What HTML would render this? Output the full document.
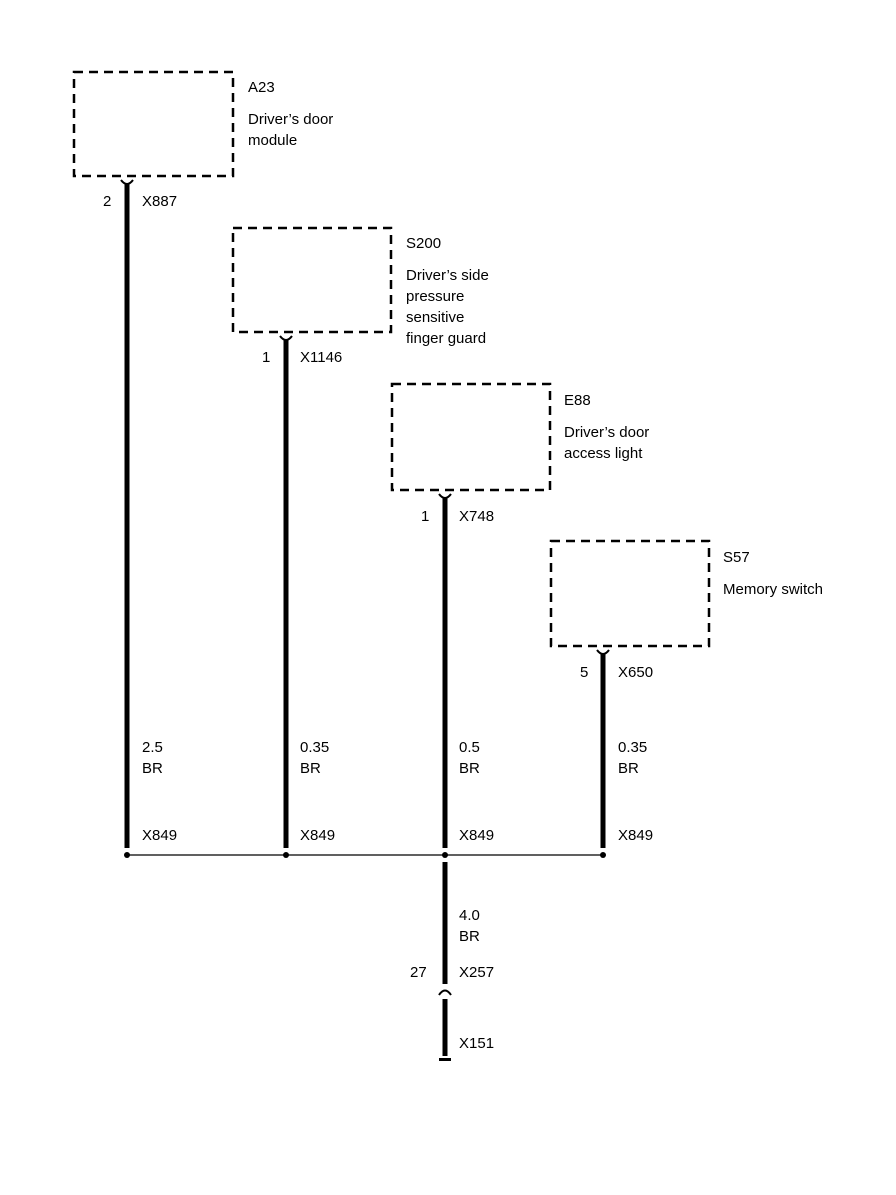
<!DOCTYPE html>
<html><head><style>
body{margin:0;background:#fff}
text{font-family:"Liberation Sans",sans-serif;font-size:15px;fill:#000}
</style></head><body>
<svg width="896" height="1190" xmlns="http://www.w3.org/2000/svg">
<g fill="none" stroke="#000" stroke-width="2.5" stroke-dasharray="9,6">
<rect x="74" y="72" width="159" height="104"/>
<rect x="233" y="228" width="158" height="104"/>
<rect x="392" y="384" width="158" height="106"/>
<rect x="551" y="541" width="158" height="105"/>
</g>
<g stroke="#000" stroke-width="5">
<line x1="127" y1="184" x2="127" y2="848"/>
<line x1="286" y1="340" x2="286" y2="848"/>
<line x1="445" y1="498" x2="445" y2="848"/>
<line x1="603" y1="654" x2="603" y2="848"/>
<line x1="445" y1="862" x2="445" y2="984"/>
<line x1="445" y1="999" x2="445" y2="1056"/>
</g>
<g fill="none" stroke="#000" stroke-width="2">
<path d="M121,180 q6,8 12,0"/><path d="M280,336 q6,8 12,0"/>
<path d="M439,494 q6,8 12,0"/><path d="M597,650 q6,8 12,0"/>
<path d="M439,995 q6,-9 12,0"/>
</g>
<line x1="127" y1="855" x2="603" y2="855" stroke="#000" stroke-width="1.3"/>
<g fill="#000">
<circle cx="127" cy="855" r="3"/><circle cx="286" cy="855" r="3"/>
<circle cx="445" cy="855" r="3"/><circle cx="603" cy="855" r="3"/>
<rect x="439" y="1058" width="12" height="3"/>
</g>
<text x="248" y="92">A23</text><text x="248" y="124">Driver’s door</text><text x="248" y="145">module</text>
<text x="103" y="206">2</text><text x="142" y="206">X887</text>
<text x="406" y="248">S200</text><text x="406" y="280">Driver’s side</text><text x="406" y="301">pressure</text><text x="406" y="322">sensitive</text><text x="406" y="343">finger guard</text>
<text x="262" y="362">1</text><text x="300" y="362">X1146</text>
<text x="564" y="405">E88</text><text x="564" y="437">Driver’s door</text><text x="564" y="458">access light</text>
<text x="421" y="521">1</text><text x="459" y="521">X748</text>
<text x="723" y="562">S57</text><text x="723" y="594">Memory switch</text>
<text x="580" y="677">5</text><text x="618" y="677">X650</text>
<text x="142" y="752">2.5</text><text x="142" y="773">BR</text><text x="142" y="840">X849</text>
<text x="300" y="752">0.35</text><text x="300" y="773">BR</text><text x="300" y="840">X849</text>
<text x="459" y="752">0.5</text><text x="459" y="773">BR</text><text x="459" y="840">X849</text>
<text x="618" y="752">0.35</text><text x="618" y="773">BR</text><text x="618" y="840">X849</text>
<text x="459" y="920">4.0</text><text x="459" y="941">BR</text>
<text x="410" y="977">27</text><text x="459" y="977">X257</text>
<text x="459" y="1048">X151</text>
</svg>
</body></html>
